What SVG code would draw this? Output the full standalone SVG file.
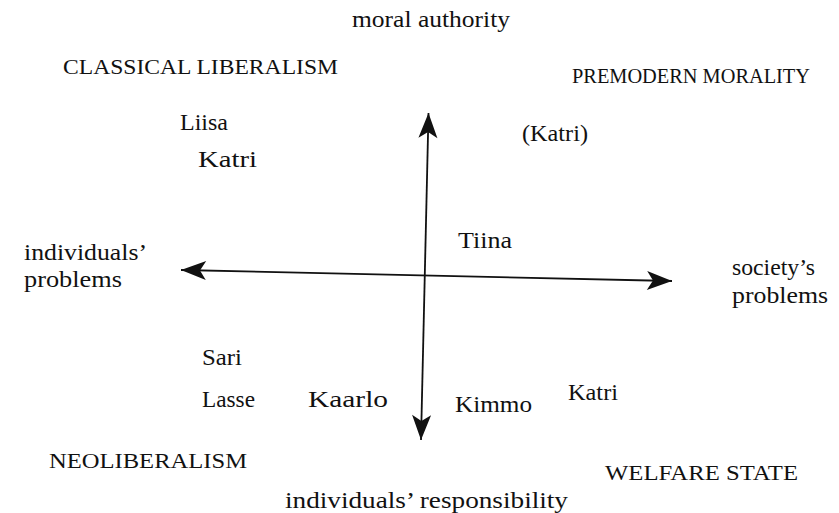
<svg xmlns="http://www.w3.org/2000/svg" width="839" height="513" viewBox="0 0 839 513">
<style>
text{font-family:"Liberation Serif","Times New Roman",serif;font-size:23px;fill:#111}
.cap{font-size:21.5px}
.ax{stroke:#111;stroke-width:1.8;fill:none}
</style>
<defs>
<marker id="ah" markerUnits="userSpaceOnUse" markerWidth="30" markerHeight="24" viewBox="-26 -12 28 24" refX="0" refY="0" orient="auto-start-reverse">
<path d="M0,0 L-25,-9.5 L-19,0 L-25,9.5 Z" fill="#111"/>
</marker>
</defs>
<rect width="839" height="513" fill="#fff"/>
<g id="connectors">
<line class="ax" x1="428.5" y1="113" x2="421" y2="440" marker-start="url(#ah)" marker-end="url(#ah)"/>
<line class="ax" x1="181" y1="270" x2="672" y2="281" marker-start="url(#ah)" marker-end="url(#ah)"/>
</g>
<g id="moral-authority"><text x="352" y="27" textLength="158" lengthAdjust="spacingAndGlyphs">moral authority</text></g>
<g id="classical-liberalism"><text class="cap" x="63" y="74" textLength="275" lengthAdjust="spacingAndGlyphs">CLASSICAL LIBERALISM</text></g>
<g id="premodern-morality"><text class="cap" x="572" y="83" textLength="238" lengthAdjust="spacingAndGlyphs">PREMODERN MORALITY</text></g>
<g id="liisa"><text x="180" y="130" textLength="48" lengthAdjust="spacingAndGlyphs">Liisa</text></g>
<g id="katri-cl"><text x="198" y="167" textLength="59" lengthAdjust="spacingAndGlyphs">Katri</text></g>
<g id="katri-pm"><text x="522" y="141" textLength="66" lengthAdjust="spacingAndGlyphs">(Katri)</text></g>
<g id="tiina"><text x="458" y="248" textLength="54" lengthAdjust="spacingAndGlyphs">Tiina</text></g>
<g id="individuals-problems">
<text x="24" y="260" textLength="123" lengthAdjust="spacingAndGlyphs">individuals’</text>
<text x="24" y="287" textLength="98" lengthAdjust="spacingAndGlyphs">problems</text>
</g>
<g id="societys-problems">
<text x="732" y="275" textLength="83" lengthAdjust="spacingAndGlyphs">society’s</text>
<text x="732" y="303" textLength="96" lengthAdjust="spacingAndGlyphs">problems</text>
</g>
<g id="sari"><text x="202" y="365" textLength="40" lengthAdjust="spacingAndGlyphs">Sari</text></g>
<g id="lasse"><text x="202" y="407" textLength="53" lengthAdjust="spacingAndGlyphs">Lasse</text></g>
<g id="kaarlo"><text x="308" y="407" textLength="80" lengthAdjust="spacingAndGlyphs">Kaarlo</text></g>
<g id="kimmo"><text x="455" y="412" textLength="77" lengthAdjust="spacingAndGlyphs">Kimmo</text></g>
<g id="katri-ws"><text x="568" y="400" textLength="50" lengthAdjust="spacingAndGlyphs">Katri</text></g>
<g id="neoliberalism"><text class="cap" x="49" y="468" textLength="198" lengthAdjust="spacingAndGlyphs">NEOLIBERALISM</text></g>
<g id="welfare-state"><text class="cap" x="605" y="480" textLength="193" lengthAdjust="spacingAndGlyphs">WELFARE STATE</text></g>
<g id="individuals-responsibility"><text x="285" y="508" textLength="283" lengthAdjust="spacingAndGlyphs">individuals’ responsibility</text></g>
</svg>
